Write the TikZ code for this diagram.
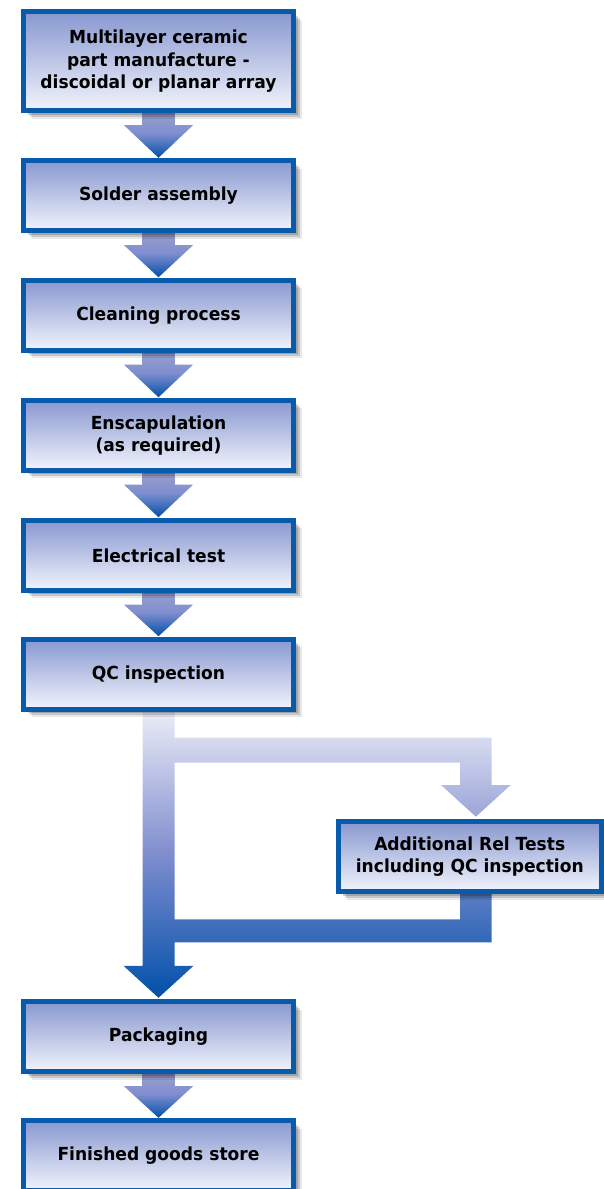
\documentclass[tikz,border=0pt]{standalone}
\usepackage{fontspec}
\setmainfont{DejaVu Sans}[FakeStretch=0.95]
\usetikzlibrary{calc,shadows}
\pgfdeclarelayer{bg}
\pgfsetlayers{bg,main}
\definecolor{bordercol}{RGB}{8,90,170}
\definecolor{boxtop}{RGB}{136,152,208}
\definecolor{boxbot}{RGB}{242,244,252}
\definecolor{artop}{RGB}{158,162,200}
\definecolor{armid}{RGB}{128,142,208}
\definecolor{arbot}{RGB}{0,80,168}
\definecolor{looptop}{RGB}{238,239,249}
\definecolor{loopmid}{RGB}{128,142,206}
\definecolor{loopbot}{RGB}{0,80,170}
\newcommand\blockarrow[2]{%
  \shade[arrowshade]
    ($(#1.south)+(-16.3,-2)$) rectangle ($(#2.north)+(16.3,-33.8)$)
    ($(#1.south)+(-34.7,14.2)$) -- ($(#2.north)+(0,-3)$) -- ($(#1.south)+(34.7,14.2)$) -- cycle;}
\begin{document}
\begin{tikzpicture}[x=1pt,y=-1pt,
  shadowstack/.style={
    drop shadow={shadow xshift=4pt,shadow yshift=-4pt,opacity=0.18,fill=black},
    drop shadow={shadow xshift=6pt,shadow yshift=-6pt,opacity=0.14,fill=black},
    drop shadow={shadow xshift=8pt,shadow yshift=-8pt,opacity=0.09,fill=black}},
  stepbox/.style={shadowstack,draw=bordercol,line width=5pt,
    top color=boxtop,bottom color=boxbot,
    minimum width=270pt,minimum height=70pt,inner sep=0pt,outer sep=0pt,
    align=center,text=black,font=\fontsize{18}{22.5}\selectfont\bfseries},
  arrowshade/.style={top color=artop,bottom color=arbot,middle color=armid},
  loopshade/.style={top color=looptop,bottom color=loopbot,middle color=loopmid}]
\useasboundingbox (0,0) rectangle (604,1189);

\node[stepbox,minimum height=99pt] (b1) at (158.5,61.3)
  {Multilayer ceramic\\part manufacture -\\discoidal or planar array};
\node[stepbox] (b2) at (158.5,195.8) {Solder assembly};
\node[stepbox] (b3) at (158.5,315.3) {Cleaning process};
\node[stepbox] (b4) at (158.5,435.3) {Enscapulation\\(as required)};
\node[stepbox] (b5) at (158.5,555.3) {Electrical test};
\node[stepbox] (b6) at (158.5,674.2) {QC inspection};
\node[stepbox,minimum width=262.5pt] (b7) at (469.75,856.5)
  {Additional Rel Tests\\including QC inspection};
\node[stepbox] (b8) at (158.5,1036.8) {Packaging};
\node[stepbox] (b9) at (158.5,1155.8) {Finished goods store};

\coordinate (rc) at ($(b7.north)+(6.1,0)$);
\coordinate (tb) at ($(b6.south)+(0,41)$);
\coordinate (rb) at ($(b6.south)+(0,221.6)$);

\begin{pgfonlayer}{bg}
\blockarrow{b1}{b2}
\blockarrow{b2}{b3}
\blockarrow{b3}{b4}
\blockarrow{b4}{b5}
\blockarrow{b5}{b6}
\blockarrow{b8}{b9}
\shade[loopshade]
  ($(b6.south)+(-16,-2)$) rectangle ($(b8.north)+(16,-35)$)
  ($(b8.north)+(-35,-36)$) -- ($(b8.north)+(0,-4)$) -- ($(b8.north)+(35,-36)$) -- cycle
  ($(tb)+(15,-12.5)$) rectangle ($(tb -| rc)+(15.85,12.5)$)
  ($(tb -| rc)+(-15.85,0)$) rectangle ($(rc)+(15.85,-35.5)$)
  ($(rc)+(-34.85,-36.5)$) -- ($(rc)+(0,-4.8)$) -- ($(rc)+(34.85,-36.5)$) -- cycle
  ($(b7.south -| rc)+(-15.85,-2)$) rectangle ($(rb -| rc)+(15.85,0)$)
  ($(rb)+(15,-11.5)$) rectangle ($(rb -| rc)+(15.85,11.5)$);
\end{pgfonlayer}
\end{tikzpicture}
\end{document}
